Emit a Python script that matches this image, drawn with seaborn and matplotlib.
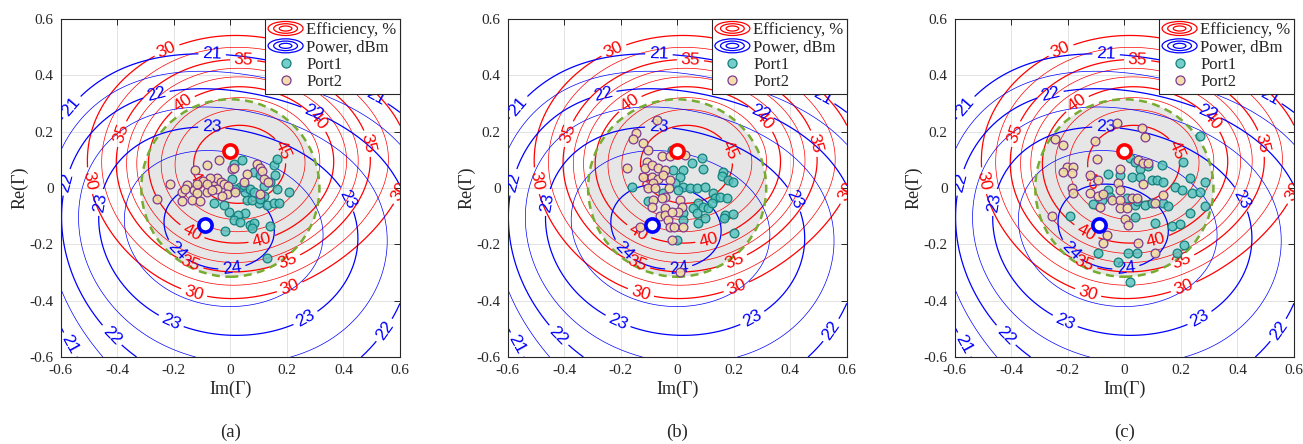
import numpy as np
import matplotlib
matplotlib.use("Agg")
import matplotlib.pyplot as plt
import seaborn as sns
from matplotlib.patches import Circle, Ellipse
from matplotlib.lines import Line2D
from matplotlib.legend_handler import HandlerBase

# ---------------- data ----------------
# contour traces (Im, Re) per level, efficiency in %
eff_peak = [(0.02, 0.12, 47.5)]
eff_45 = [(-0.13, 0.128), (-0.106, 0.033), (-0.106, 0.246), (0.035, 0.257), (0.165, 0.21),
          (0.182, 0.133), (0.15, 0.02), (0.05, -0.04), (-0.05, -0.03)]
eff_40 = [(-0.182, 0.322), (-0.27, 0.21), (-0.3, 0.07), (-0.247, -0.061), (-0.129, -0.144),
          (0.0, -0.17), (0.106, -0.162), (0.25, -0.08), (0.33, 0.08), (0.324, 0.251), (0.0, 0.35)]
eff_35 = [(0.047, 0.452), (-0.2, 0.41), (-0.37, 0.187), (-0.413, 0.002), (-0.365, -0.126),
          (-0.247, -0.222), (-0.141, -0.268), (0.0, -0.29), (0.194, -0.255), (0.352, -0.178),
          (0.494, -0.059), (0.488, 0.166), (0.35, 0.37)]
eff_30 = [(0.0, 0.511), (-0.224, 0.488), (-0.424, 0.246), (-0.459, 0.033), (-0.424, -0.126),
          (-0.318, -0.282), (-0.188, -0.352), (0.0, -0.386), (0.217, -0.361), (0.411, -0.248),
          (0.565, -0.118), (0.582, 0.033), (0.53, 0.3), (0.3, 0.46)]
eff_edge = [(-0.6, -0.6, 15), (0.6, -0.6, 15), (-0.6, 0.6, 18), (0.6, 0.6, 18),
            (0.0, -0.6, 22), (0.0, 0.6, 27), (-0.6, 0.0, 26), (0.6, 0.0, 29.5)]

# output power in dBm
pow_peak = [(-0.09, -0.14, 24.2)]
pow_24 = [(-0.194, -0.227), (-0.106, -0.274), (0.0, -0.238), (0.035, -0.168), (0.02, -0.09),
          (-0.08, -0.045), (-0.2, -0.09), (-0.14, -0.05), (-0.21, -0.16)]
pow_235 = [(0.0, 0.129), (-0.237, 0.117), (-0.355, 0.028), (-0.376, -0.126), (-0.341, -0.245),
           (-0.271, -0.34), (0.0, -0.444), (0.152, -0.414), (0.27, -0.331), (0.311, -0.213),
           (0.305, -0.118), (0.211, 0.005), (0.117, 0.076)]
pow_23 = [(-0.065, 0.222), (0.224, 0.163), (0.341, 0.092), (0.418, -0.038), (0.47, -0.2),
          (0.435, -0.345), (0.27, -0.469), (0.106, -0.51), (0.0, -0.522), (-0.224, -0.504),
          (-0.306, -0.439), (-0.424, -0.298), (-0.47, -0.168), (-0.465, -0.05), (-0.435, 0.068),
          (-0.306, 0.175), (-0.188, 0.216)]
pow_22 = [(-0.27, 0.364), (0.0, 0.375), (0.106, 0.364), (0.224, 0.328), (0.294, 0.263),
          (0.4, 0.21), (0.594, 0.104), (-0.424, 0.281), (-0.529, 0.151), (-0.582, 0.021),
          (-0.6, -0.05), (-0.529, -0.345), (-0.412, -0.516), (-0.318, -0.6), (0.518, -0.486),
          (0.594, -0.416), (0.459, -0.6)]
pow_21 = [(-0.065, 0.458), (0.106, 0.446), (-0.247, 0.434), (-0.424, 0.364), (-0.553, 0.281),
          (-0.594, 0.222), (0.28, 0.4), (0.5, 0.299), (0.588, 0.222), (-0.6, -0.486),
          (-0.547, -0.545), (-0.506, -0.6)]
pow_edge = [(0.6, 0.6, 20.0), (-0.6, 0.6, 19.0), (0.6, -0.6, 21.6), (-0.6, -0.6, 20.9),
            (0.0, 0.6, 20.0)]

eff_major = [30, 35, 40, 45]
eff_minor = [32.5, 36.7, 38.3, 41.7, 43.3]
pow_major = [21, 22, 23, 24]
pow_minor = [21.5, 22.5, 23.5]

eff_label_pos = [(-0.224, 0.488), (-0.459, 0.033), (0.582, 0.033), (-0.129, -0.374), (0.212, -0.357),
                 (0.047, 0.452), (-0.37, 0.187), (0.482, 0.157), (-0.141, -0.268), (0.2, -0.25),
                 (-0.182, 0.322), (0.324, 0.251), (-0.129, -0.144), (0.106, -0.162),
                 (0.182, 0.133), (-0.106, 0.033)]
pow_label_pos = [(-0.065, 0.458), (-0.553, 0.281), (0.5, 0.299), (-0.547, -0.545),
                 (-0.27, 0.364), (0.294, 0.263), (-0.582, 0.021), (-0.412, -0.516), (0.518, -0.486),
                 (-0.065, 0.222), (0.418, -0.038), (0.27, -0.469), (-0.224, -0.504), (-0.465, -0.05),
                 (-0.194, -0.227), (0.0, -0.238)]

max_eff_point = (0.0, 0.13)
max_pow_point = (-0.09, -0.13)
region_radius = 0.315

# measured load points (Im, Re)
port1_a = [(0.012, 0.086), (0.041, 0.098), (0.082, 0.057), (0.106, 0.045), (0.153, 0.080),
           (0.165, 0.104), (0.159, 0.045), (0.165, -0.002), (0.206, -0.014), (0.141, 0.021),
           (0.120, 0.007), (0.129, -0.061), (0.100, -0.055), (0.059, -0.044), (0.053, -0.014),
           (0.035, 0.004), (0.018, -0.005), (0.047, 0.009), (0.071, -0.002), (0.076, -0.044),
           (0.053, -0.087), (0.026, -0.097), (-0.006, -0.085), (-0.024, -0.061), (-0.059, -0.055),
           (0.012, -0.115), (0.035, -0.120), (0.068, -0.132), (0.082, -0.123), (0.076, -0.142),
           (0.141, -0.135), (-0.018, -0.151), (0.129, -0.248), (0.153, -0.055), (0.173, -0.053),
           (0.118, -0.028), (0.104, -0.040), (0.006, 0.033), (0.082, -0.014)]
port2_a = [(-0.124, 0.063), (-0.082, 0.080), (-0.041, 0.098), (0.006, 0.066), (-0.212, 0.013),
           (-0.259, -0.038), (-0.171, -0.014), (-0.153, 0.012), (-0.129, -0.008), (-0.118, -0.017),
           (-0.171, -0.047), (-0.135, -0.044), (-0.106, -0.047), (-0.082, -0.014), (-0.071, 0.009),
           (-0.059, 0.024), (-0.047, 0.035), (-0.033, 0.021), (-0.021, 0.014), (-0.009, 0.006),
           (-0.071, 0.035), (-0.096, 0.026), (-0.047, -0.002), (-0.012, -0.020), (0.018, -0.014),
           (0.012, 0.072), (0.059, 0.051), (0.047, 0.021), (0.094, 0.085), (0.106, 0.072),
           (0.113, 0.059), (0.118, 0.033), (0.132, 0.021), (0.106, -0.020), (-0.082, 0.013),
           (-0.064, -0.008), (-0.029, -0.028), (-0.162, -0.002), (-0.118, 0.015)]
port1_b = [(-0.019, 0.135), (0.087, 0.105), (0.051, 0.088), (-0.161, 0.005), (-0.013, 0.064),
           (0.022, 0.064), (0.093, 0.066), (0.163, 0.058), (0.157, 0.043), (0.181, 0.028),
           (0.199, 0.023), (0.010, 0.040), (-0.008, 0.017), (0.022, 0.005), (0.045, -0.001),
           (0.069, -0.001), (0.098, 0.005), (0.004, -0.007), (0.128, -0.019), (0.134, -0.037),
           (0.152, -0.031), (0.175, -0.037), (0.075, -0.054), (0.093, -0.066), (0.110, -0.072),
           (0.057, -0.072), (0.069, -0.090), (0.022, -0.090), (0.022, -0.113), (0.075, -0.125),
           (0.098, -0.107), (0.169, -0.096), (0.199, -0.092), (0.166, -0.107), (-0.002, -0.184),
           (0.201, -0.161), (-0.102, -0.045), (-0.049, -0.019), (0.122, -0.052)]
port2_b = [(-0.072, 0.241), (-0.145, 0.194), (-0.155, 0.173), (-0.120, 0.159), (-0.102, 0.135),
           (-0.055, 0.114), (-0.025, 0.114), (0.028, 0.117), (-0.108, 0.094), (-0.114, 0.070),
           (-0.090, 0.082), (-0.179, 0.070), (-0.066, 0.070), (-0.043, 0.064), (-0.120, 0.040),
           (-0.090, 0.040), (-0.066, 0.031), (-0.049, 0.046), (-0.084, 0.019), (-0.025, 0.028),
           (-0.102, -0.001), (-0.078, -0.001), (-0.028, -0.001), (-0.043, -0.031), (-0.055, -0.037),
           (-0.084, -0.042), (-0.090, -0.066), (-0.043, -0.072), (0.010, -0.042), (0.016, -0.066),
           (0.004, -0.084), (-0.061, -0.101), (-0.043, -0.096), (-0.031, -0.113), (-0.131, -0.137),
           (-0.025, -0.137), (-0.011, -0.137), (0.022, -0.137), (-0.019, -0.184), (0.010, -0.300),
           (-0.019, -0.084)]
port1_c = [(0.268, 0.185), (0.020, 0.105), (0.038, 0.094), (0.055, 0.066), (0.085, 0.078),
           (0.132, 0.082), (0.209, 0.094), (-0.057, 0.050), (-0.015, 0.046), (0.026, 0.040),
           (0.055, 0.040), (0.097, 0.028), (0.114, 0.028), (0.138, 0.023), (0.232, 0.034),
           (0.285, 0.023), (0.179, 0.005), (0.203, -0.007), (0.238, -0.019), (0.268, -0.013),
           (-0.110, -0.057), (-0.080, -0.042), (-0.057, -0.007), (-0.051, -0.031), (0.008, -0.036),
           (0.038, -0.060), (0.044, -0.045), (0.073, -0.060), (0.097, -0.054), (0.138, -0.052),
           (0.156, -0.064), (-0.192, -0.099), (0.038, -0.104), (0.108, -0.125), (0.167, -0.135),
           (0.197, -0.128), (0.232, -0.090), (0.285, -0.064), (-0.092, -0.229), (-0.021, -0.261),
           (0.014, -0.232), (0.044, -0.229), (0.185, -0.232), (0.211, -0.202), (0.020, -0.332)]
port2_c = [(-0.027, 0.230), (0.061, 0.212), (0.073, 0.180), (-0.245, 0.173), (-0.216, 0.153),
           (-0.104, 0.168), (-0.098, 0.103), (-0.204, 0.073), (-0.180, 0.073), (-0.216, 0.058),
           (-0.186, 0.055), (-0.121, 0.046), (-0.092, 0.028), (-0.015, 0.066), (0.050, 0.099),
           (0.067, 0.090), (0.085, 0.088), (-0.021, 0.019), (-0.186, -0.001), (-0.180, -0.019),
           (-0.121, -0.019), (-0.092, -0.028), (-0.074, -0.021), (-0.045, -0.042), (-0.086, -0.066),
           (-0.015, -0.042), (0.026, -0.036), (-0.015, -0.072), (0.008, -0.072), (0.002, -0.111),
           (0.014, -0.131), (0.044, -0.036), (0.108, -0.054), (0.138, -0.025), (-0.257, -0.099),
           (-0.062, -0.167), (-0.074, -0.194), (0.050, -0.194), (0.108, -0.229), (0.067, 0.014),
           (-0.015, -0.007)]

panels = [("(a)", port1_a, port2_a), ("(b)", port1_b, port2_b), ("(c)", port1_c, port2_c)]
ticks = [-0.6, -0.4, -0.2, 0, 0.2, 0.4, 0.6]
tick_labels = ["-0.6", "-0.4", "-0.2", "0", "0.2", "0.4", "0.6"]

P1_FACE = (0.33, 0.76, 0.74, 0.8)
P1_EDGE = "#13807c"
P2_FACE = (0.94, 0.86, 0.64, 0.9)
P2_EDGE = "#7e3a90"


def traced(groups, extra):
    pts = []
    for level, trace in groups:
        pts += [(x, y, level) for x, y in trace]
    return np.array(pts + extra, dtype=float)


def fit_surface(pts, deg=4):
    x, y, z = pts.T
    terms = [(i, j) for i in range(deg + 1) for j in range(deg + 1 - i)]
    A = np.column_stack([x ** i * y ** j for i, j in terms])
    coef = np.linalg.lstsq(A, z, rcond=None)[0]
    return lambda X, Y: sum(c * X ** i * Y ** j for c, (i, j) in zip(coef, terms))


class RingsHandler(HandlerBase):
    def create_artists(self, legend, orig_handle, xdescent, ydescent, width, height, fontsize, trans):
        col = orig_handle.get_color()
        cx, cy = width / 2 - xdescent, height / 2 - ydescent
        out = []
        for f in (1.0, 0.68, 0.36):
            out.append(Ellipse((cx, cy), width * f, height * 1.2 * f, fill=False,
                               edgecolor=col, lw=0.9, transform=trans))
        return out


sns.set_theme(style="white")
plt.rcParams['font.family'] = ['Liberation Serif', 'DejaVu Serif']
plt.rcParams['axes.unicode_minus'] = False

eff_fn = fit_surface(traced([(45, eff_45), (40, eff_40), (35, eff_35), (30, eff_30)],
                            eff_peak + eff_edge))
pow_fn = fit_surface(traced([(24, pow_24), (23.5, pow_235), (23, pow_23), (22, pow_22), (21, pow_21)],
                            pow_peak + pow_edge))

gx = np.linspace(-0.6, 0.6, 81)
GX, GY = np.meshgrid(gx, gx)
EFF = eff_fn(GX, GY)
POW = pow_fn(GX, GY)

fig = plt.figure(figsize=(13.03, 4.44), dpi=100)
lefts = [60.7, 507.5, 954.7]

for (tag, p1, p2), left in zip(panels, lefts):
    ax = fig.add_axes([left / 1303, 87 / 444, 339.3 / 1303, 338 / 444])
    ax.set_xlim(-0.6, 0.6)
    ax.set_ylim(-0.6, 0.6)
    ax.set_xticks(ticks)
    ax.set_yticks(ticks)
    ax.set_xticklabels(tick_labels)
    ax.set_yticklabels(tick_labels)
    ax.tick_params(direction='in', length=4, width=0.7, top=True, right=True,
                   labelsize=11, colors='#262626', pad=5)
    ax.grid(True, color='#dedede', lw=0.6, zorder=0)
    ax.set_axisbelow(True)
    for s in ax.spines.values():
        s.set_color('#262626')
        s.set_linewidth(0.8)

    ax.add_patch(Circle((0, 0), region_radius, facecolor='#e6e6e6', edgecolor='none', zorder=1))

    ax.contour(GX, GY, EFF, levels=eff_minor, colors='#ff0000', linewidths=0.5, zorder=2)
    cs_e = ax.contour(GX, GY, EFF, levels=eff_major, colors='#ff0000', linewidths=0.9, zorder=2)
    ax.contour(GX, GY, POW, levels=pow_minor, colors='#0000ff', linewidths=0.5, zorder=2)
    cs_p = ax.contour(GX, GY, POW, levels=pow_major, colors='#0000ff', linewidths=0.9, zorder=2)
    for cs, pos in ((cs_e, eff_label_pos), (cs_p, pow_label_pos)):
        txts = ax.clabel(cs, manual=pos, inline=True, fmt='%d', fontsize=12.5)
        for t in txts:
            t.set_fontfamily('Liberation Sans')

    ax.add_patch(Circle((0, 0), region_radius, fill=False, edgecolor='#77ac30', lw=1.8,
                        ls=(0, (3.2, 2.2)), zorder=3))

    for pts, face, edge in ((p1, P1_FACE, P1_EDGE), (p2, P2_FACE, P2_EDGE)):
        arr = np.array(pts)
        sns.scatterplot(x=arr[:, 0], y=arr[:, 1], ax=ax, s=40, zorder=4, legend=False)
        coll = ax.collections[-1]
        coll.set_facecolor(face)
        coll.set_edgecolor(edge)
        coll.set_linewidth(0.9)

    ax.plot(*max_eff_point, 'o', ms=9.5, mfc='white', mec='#ff0000', mew=2.6, zorder=6)
    ax.plot(*max_pow_point, 'o', ms=9.5, mfc='white', mec='#0000ff', mew=2.6, zorder=6)

    ax.set_xlabel('Im(Γ)', fontsize=13, color='#262626', labelpad=3)
    ax.set_ylabel('Re(Γ)', fontsize=13, color='#262626', labelpad=1)

    eff_h = Line2D([], [], color='#ff0000')
    pow_h = Line2D([], [], color='#0000ff')
    p1_h = Line2D([], [], ls='none', marker='o', ms=6.5, mfc=P1_FACE, mec=P1_EDGE, mew=0.9)
    p2_h = Line2D([], [], ls='none', marker='o', ms=6.5, mfc=P2_FACE, mec=P2_EDGE, mew=0.9)
    leg = ax.legend([eff_h, pow_h, p1_h, p2_h], ['Efficiency, %', 'Power, dBm', 'Port1', 'Port2'],
                    handler_map={eff_h: RingsHandler(), pow_h: RingsHandler()},
                    loc='upper right', borderaxespad=0, fancybox=False, framealpha=1,
                    edgecolor='#262626', fontsize=12, handlelength=2.1, handletextpad=0.2,
                    borderpad=0.2, labelspacing=0.08)
    leg.get_frame().set_linewidth(0.8)
    leg.set_zorder(10)

    fig.text((left + 339.3 / 2) / 1303, 12 / 444, tag, ha='center', va='center', fontsize=13.5)

fig.savefig('out.png', dpi=100)
